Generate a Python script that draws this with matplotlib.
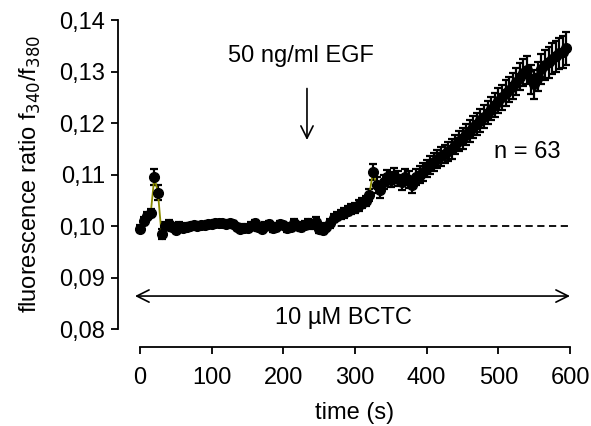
import matplotlib.pyplot as plt

plt.rcParams['font.family'] = ['Liberation Sans', 'DejaVu Sans']

# time points (s)
time_s = [
    0, 5, 10, 15, 20, 25, 30, 35, 40, 45, 50, 55, 60, 65, 70, 75, 80, 85, 90, 95,
    100, 105, 110, 115, 120, 125, 130, 135, 140, 145, 150, 155, 160, 165, 170, 175, 180, 185, 190, 195,
    200, 205, 210, 215, 220, 225, 230, 235, 240, 245, 250, 255, 260, 265, 270, 275, 280, 285, 290, 295,
    300, 305, 310, 315, 320, 325, 330, 335, 340, 345, 350, 355, 360, 365, 370, 375, 380, 385, 390, 395,
    400, 405, 410, 415, 420, 425, 430, 435, 440, 445, 450, 455, 460, 465, 470, 475, 480, 485, 490, 495,
    500, 505, 510, 515, 520, 525, 530, 535, 540, 545, 550, 555, 560, 565, 570, 575, 580, 585, 590, 595,
]

# mean f340/f380 ratio
ratio = [
    0.0995, 0.1010, 0.1020, 0.1025, 0.1095, 0.1065, 0.0985, 0.1000, 0.1003, 0.0998,
    0.0993, 0.1000, 0.0997, 0.0999, 0.1000, 0.1001, 0.1000, 0.1001, 0.1002, 0.1003,
    0.1004, 0.1005, 0.1006, 0.1005, 0.1004, 0.1006, 0.1004, 0.0998, 0.0995, 0.0997,
    0.0996, 0.1000, 0.1005, 0.0998, 0.0995, 0.1000, 0.1003, 0.0996, 0.0998, 0.1003,
    0.1001, 0.0996, 0.0998, 0.1005, 0.1000, 0.0998, 0.1002, 0.1005, 0.1003, 0.1008,
    0.0995, 0.0993, 0.0998, 0.1005, 0.1015, 0.1020, 0.1023, 0.1025, 0.1030, 0.1033,
    0.1035, 0.1040, 0.1045, 0.1048, 0.1060, 0.1105, 0.1080, 0.1070, 0.1085, 0.1095,
    0.1090, 0.1098, 0.1092, 0.1085, 0.1095, 0.1090, 0.1080, 0.1095, 0.1100, 0.1105,
    0.1112, 0.1118, 0.1124, 0.1130, 0.1135, 0.1140, 0.1145, 0.1150, 0.1158, 0.1165,
    0.1170, 0.1178, 0.1185, 0.1192, 0.1198, 0.1205, 0.1212, 0.1220, 0.1228, 0.1235,
    0.1243, 0.1250, 0.1258, 0.1265, 0.1272, 0.1280, 0.1290, 0.1298, 0.1303, 0.1285,
    0.1275, 0.1290, 0.1305, 0.1312, 0.1318, 0.1325, 0.1330, 0.1335, 0.1338, 0.1345,
]

# standard error of the mean
sem = [
    0.0007, 0.0008, 0.0008, 0.0008, 0.0015, 0.0015, 0.0010, 0.0008, 0.0008, 0.0007,
    0.0007, 0.0007, 0.0006, 0.0006, 0.0006, 0.0006, 0.0006, 0.0006, 0.0006, 0.0006,
    0.0006, 0.0006, 0.0006, 0.0006, 0.0006, 0.0006, 0.0006, 0.0006, 0.0006, 0.0006,
    0.0006, 0.0007, 0.0007, 0.0007, 0.0007, 0.0007, 0.0007, 0.0007, 0.0007, 0.0007,
    0.0007, 0.0007, 0.0007, 0.0008, 0.0008, 0.0008, 0.0008, 0.0008, 0.0008, 0.0009,
    0.0008, 0.0008, 0.0008, 0.0008, 0.0008, 0.0008, 0.0009, 0.0009, 0.0009, 0.0009,
    0.0009, 0.0010, 0.0010, 0.0010, 0.0012, 0.0015, 0.0015, 0.0015, 0.0014, 0.0014,
    0.0014, 0.0015, 0.0015, 0.0015, 0.0016, 0.0016, 0.0016, 0.0016, 0.0016, 0.0017,
    0.0017, 0.0017, 0.0018, 0.0018, 0.0018, 0.0018, 0.0019, 0.0019, 0.0019, 0.0020,
    0.0020, 0.0020, 0.0021, 0.0021, 0.0021, 0.0022, 0.0022, 0.0022, 0.0023, 0.0023,
    0.0024, 0.0024, 0.0025, 0.0025, 0.0025, 0.0026, 0.0026, 0.0027, 0.0027, 0.0028,
    0.0028, 0.0028, 0.0029, 0.0029, 0.0030, 0.0030, 0.0030, 0.0031, 0.0031, 0.0032,
]

baseline = 0.10

fig = plt.figure(figsize=(5.91, 4.26), dpi=100)
ax = fig.add_axes([140 / 591, 97 / 426, 430 / 591, 309 / 426])

# baseline
ax.plot([260, 600], [baseline, baseline], color='black', lw=1.3, linestyle=(0, (4, 2.5)), zorder=1)

# data with error bars
ax.errorbar(time_s, ratio, yerr=sem, fmt='o', color='#8c8c00', ms=7,
            mfc='black', mec='black', ecolor='black', elinewidth=1.6,
            capsize=3, capthick=1.6, lw=1.3, linestyle='-', clip_on=False, zorder=3)

# EGF application
ax.annotate('', xy=(233, 0.1167), xytext=(233, 0.1267),
            arrowprops=dict(arrowstyle='->', color='black', lw=1.2,
                            mutation_scale=22, shrinkA=0, shrinkB=0))
ax.text(225, 0.1330, '50 ng/ml EGF', ha='center', va='center', fontsize=17)

# BCTC present throughout
ax.annotate('', xy=(-7, 0.0864), xytext=(600, 0.0864), annotation_clip=False,
            arrowprops=dict(arrowstyle='<->', color='black', lw=1.2,
                            mutation_scale=22, shrinkA=0, shrinkB=0))
ax.text(284, 0.0822, '10 µM BCTC', ha='center', va='center', fontsize=17)

ax.text(540, 0.1144, 'n = 63', ha='center', va='center', fontsize=17)

ax.set_xlim(0, 600)
ax.set_ylim(0.08, 0.14)
ax.set_xticks(range(0, 601, 100))
ax.set_yticks([0.08, 0.09, 0.10, 0.11, 0.12, 0.13, 0.14])
ax.set_yticklabels(['0,08', '0,09', '0,10', '0,11', '0,12', '0,13', '0,14'])

ax.spines['top'].set_visible(False)
ax.spines['right'].set_visible(False)
ax.spines['left'].set_position(('outward', 16))
ax.spines['bottom'].set_position(('outward', 13))
for side in ['left', 'bottom']:
    ax.spines[side].set_linewidth(1.3)
ax.tick_params(width=1.3, length=5, labelsize=17, pad=4)
ax.tick_params(axis='x', pad=9)

ax.set_xlabel('time (s)', fontsize=17, labelpad=10)
ax.set_ylabel('fluorescence ratio f$_{340}$/f$_{380}$', fontsize=17, labelpad=12)

fig.savefig('out.png', dpi=100)
